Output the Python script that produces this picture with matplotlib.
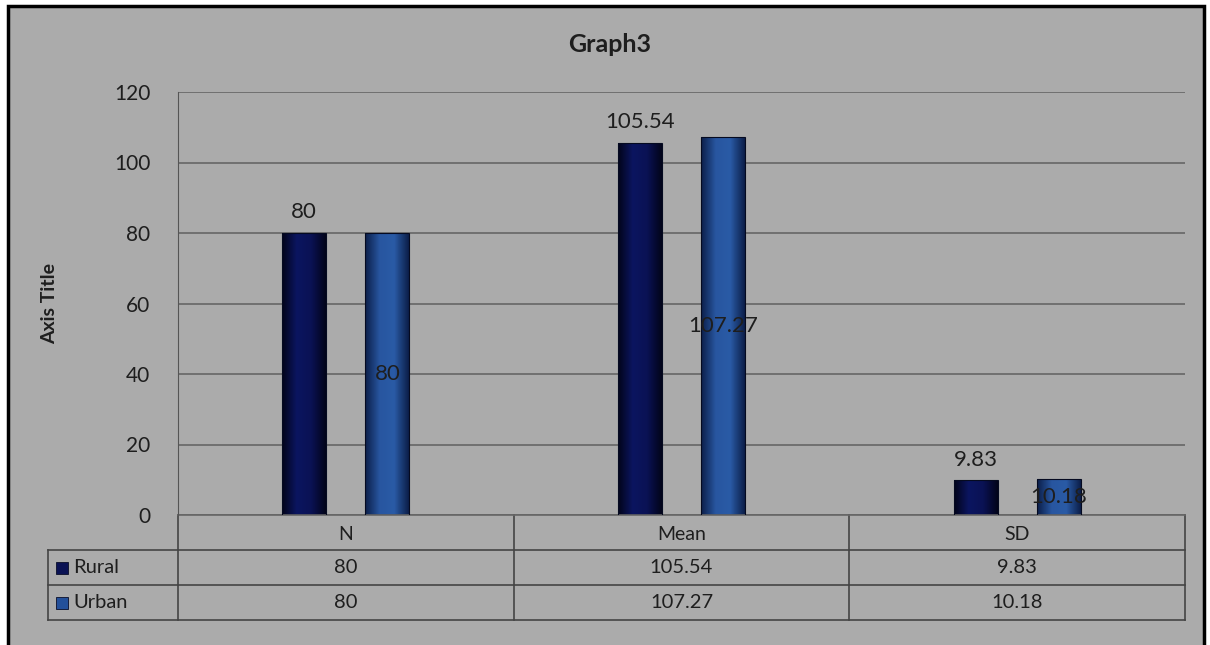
import matplotlib
matplotlib.use("Agg")
import matplotlib.pyplot as plt
import numpy as np
from matplotlib.patches import Rectangle
from matplotlib.colors import LinearSegmentedColormap

plt.rcParams["font.family"] = ["Lato", "DejaVu Sans"]

categories = ["N", "Mean", "SD"]
series = ["Rural", "Urban"]
rural = [80, 105.54, 9.83]
urban = [80, 107.27, 10.18]
table_text = [["80", "105.54", "9.83"], ["80", "107.27", "10.18"]]

BG = "#ababab"
TXT = "#1e1e1e"
CMAPS = {
    "Rural": LinearSegmentedColormap.from_list("r", ["#02041a", "#0b1560", "#0a1254", "#02041a"]),
    "Urban": LinearSegmentedColormap.from_list("u", ["#0c1f4a", "#2856a0", "#2a5ba6", "#0c1f4a"]),
}
KEY = {"Rural": "#0a1254", "Urban": "#24509a"}

fig = plt.figure(figsize=(12.1, 6.45), dpi=100)
fig.patch.set_facecolor("white")
# outer chart frame
fig.patches.append(Rectangle((8 / 1210, -0.05), (1204 - 8) / 1210, 1.05 - 6 / 645,
                             transform=fig.transFigure, facecolor=BG,
                             edgecolor="black", linewidth=2.5, zorder=-10))

ax = fig.add_axes([178 / 1210, 1 - 515 / 645, 1007 / 1210, 423 / 645])
ax.set_facecolor("none")
x = np.arange(len(categories))
w = 0.131
off = 0.124

ax.set_xlim(-0.5, 2.5)
ax.set_ylim(0, 120)
ax.set_yticks(np.arange(0, 121, 20))
ax.tick_params(axis="y", length=0, labelsize=15, pad=20, colors=TXT)
ax.set_xticks([])
for s in ["top", "right", "bottom"]:
    ax.spines[s].set_visible(False)
ax.spines["left"].set_color("#555555")
ax.grid(axis="y", color="#666666", linewidth=1.2)
ax.set_axisbelow(True)
ax.set_ylabel("Axis Title", fontsize=14, fontweight="bold", color=TXT)
ax.yaxis.set_label_coords((58 - 178) / 1007, 0.5)
fig.text(610 / 1210, 1 - 45 / 645, "Graph3", ha="center", va="center",
         fontsize=18, fontweight="bold", color=TXT)

grad = np.linspace(0, 1, 64).reshape(1, -1)
for name, vals, dx in [("Rural", rural, -off), ("Urban", urban, off)]:
    bars = ax.bar(x + dx, vals, w, color="none", edgecolor="#050a20", linewidth=0.8, zorder=3)
    for b in bars:
        bx, bw, bh = b.get_x(), b.get_width(), b.get_height()
        im = ax.imshow(grad, cmap=CMAPS[name], aspect="auto",
                       extent=[bx, bx + bw, 0, bh], zorder=2)
        im.set_clip_path(b)
    for b, v in zip(bars, vals):
        cx = b.get_x() + b.get_width() / 2
        if name == "Rural":
            ax.text(cx, v + 3, f"{v:g}", ha="center", va="bottom", fontsize=16, color=TXT)
        else:
            ax.text(cx, v / 2, f"{v:g}", ha="center", va="center", fontsize=16, color=TXT, zorder=4)
ax.set_xlim(-0.5, 2.5)
ax.set_ylim(0, 120)

# data table under the plot, in axes coordinates
tr = ax.transAxes
ph = 423.0
def ay(py):
    return (515 - py) / ph
xl = (48 - 178) / 1007
rows_y = [515, 550, 585, 620]
lc = "#444444"
for py in rows_y[1:]:
    ax.plot([xl, 1], [ay(py)] * 2, transform=tr, clip_on=False, color=lc, lw=1.2)
for vx in [0, 1 / 3, 2 / 3, 1]:
    ax.plot([vx, vx], [ay(515), ay(620)], transform=tr, clip_on=False, color=lc, lw=1.2)
ax.plot([xl, xl], [ay(550), ay(620)], transform=tr, clip_on=False, color=lc, lw=1.2)
ax.plot([0, 1], [0, 0], transform=tr, clip_on=False, color="#666666", lw=1.2)

for i, c in enumerate(categories):
    ax.text((i + 0.5) / 3, ay(534), c, transform=tr, ha="center", va="center", fontsize=14, color=TXT)
for r, name in enumerate(series):
    yc = ay((rows_y[r + 1] + rows_y[r + 2]) / 2)
    ax.add_patch(Rectangle((xl + 8 / 1007, yc - 6 / ph), 12 / 1007, 12 / ph, transform=tr,
                           clip_on=False, facecolor=KEY[name], edgecolor="#0a0f2a", lw=0.6))
    ax.text(xl + 25 / 1007, yc, name, transform=tr, ha="left", va="center", fontsize=14.5, color=TXT)
    for i in range(len(categories)):
        ax.text((i + 0.5) / 3, yc, table_text[r][i], transform=tr, ha="center", va="center",
                fontsize=14.5, color=TXT)

fig.savefig("out.png", dpi=100, facecolor=fig.get_facecolor())
